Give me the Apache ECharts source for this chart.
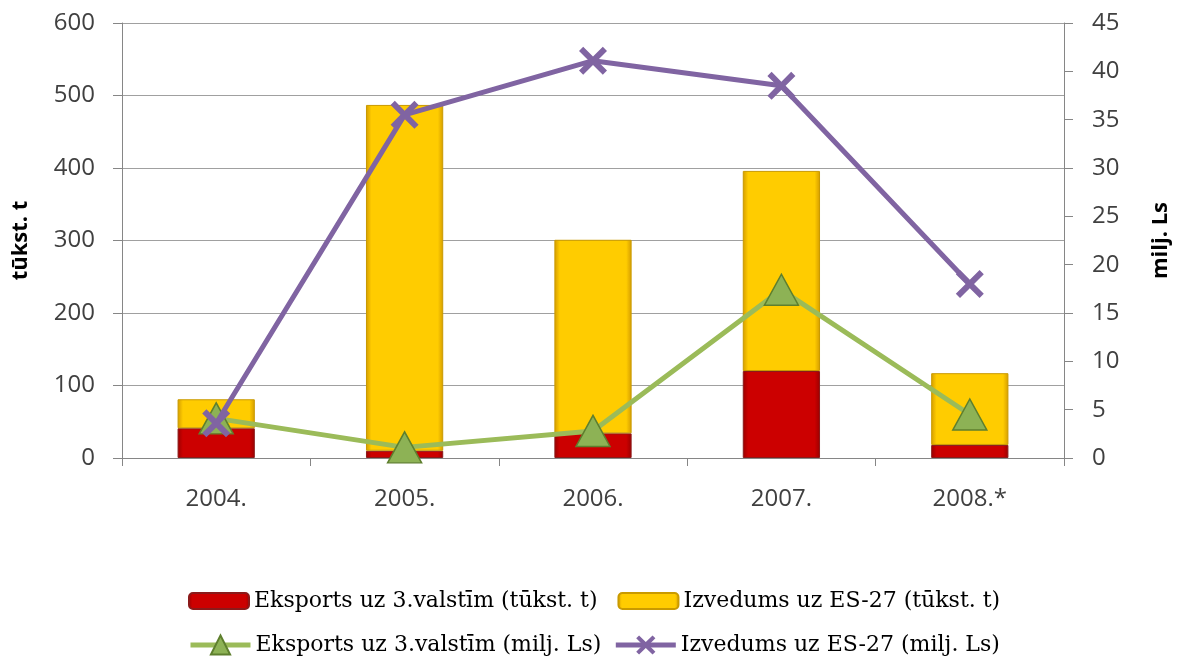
<!DOCTYPE html>
<html>
<head>
<meta charset="utf-8">
<script src="https://cdn.jsdelivr.net/npm/echarts@6/dist/echarts.min.js"></script>
<style>html,body{margin:0;padding:0;background:#fff}#c{width:1178px;height:658px}</style>
</head>
<body>
<div id="c"></div>
<script>
var categories = ['2004.', '2005.', '2006.', '2007.', '2008.*'];
var eksportsT = [41, 10, 34, 120, 18];
var izvedumsT = [40, 477, 267, 276, 99];
var eksportsLs = [4.1, 1.1, 2.8, 17.4, 4.5];
var izvedumsLs = [3.6, 35.5, 41.1, 38.5, 18.0];
var leftTicks = [0, 600, 100];
var rightTicks = [0, 45, 5];

var names = ['Eksports uz 3.valstīm (tūkst. t)', 'Izvedums uz ES-27 (tūkst. t)',
             'Eksports uz 3.valstīm (milj. Ls)', 'Izvedums uz ES-27 (milj. Ls)'];

function hgrad(edge, mid) {
  return new echarts.graphic.LinearGradient(0, 0, 1, 0, [
    {offset: 0, color: edge}, {offset: 0.07, color: mid},
    {offset: 0.93, color: mid}, {offset: 1, color: edge}]);
}
var xPath = 'path://M3,0 L10,7 L17,0 L20,3 L13,10 L20,17 L17,20 L10,13 L3,20 L0,17 L7,10 L0,3 Z';
var axisFont = {color: '#404040', fontSize: 24, fontFamily: 'Open Sans'};
var nameFont = {fontFamily: 'Open Sans', fontWeight: 'bold', fontSize: 22, color: '#000'};
var legendText = {fontFamily: 'DejaVu Serif', fontSize: 22, color: '#000'};

var chart = echarts.init(document.getElementById('c'));
chart.setOption({
  animation: false,
  grid: {left: 122, right: 114, top: 23, bottom: 200, outerBoundsMode: 'none', containLabel: false},
  legend: [
    {data: [names[0], names[1]], left: 183, top: 585, itemWidth: 60, itemHeight: 16, itemGap: 20, textStyle: legendText},
    {data: [names[2], names[3]], left: 183, top: 629, itemWidth: 60, itemHeight: 24, itemGap: 12, textStyle: legendText,
     lineStyle: {width: 5}}
  ],
  xAxis: {
    type: 'category', data: categories,
    axisLine: {lineStyle: {color: '#868686'}},
    axisTick: {show: true, length: 8, lineStyle: {color: '#868686'}},
    axisLabel: Object.assign({margin: 29}, axisFont)
  },
  yAxis: [
    {type: 'value', min: leftTicks[0], max: leftTicks[1], interval: leftTicks[2],
     name: 'tūkst. t', nameLocation: 'middle', nameGap: 90, nameRotate: 90,
     nameTextStyle: nameFont,
     axisLine: {show: true, lineStyle: {color: '#868686'}},
     axisTick: {show: true, length: 9, lineStyle: {color: '#868686'}},
     axisLabel: Object.assign({margin: 27}, axisFont),
     splitLine: {lineStyle: {color: '#A0A0A0'}}},
    {type: 'value', min: rightTicks[0], max: rightTicks[1], interval: rightTicks[2],
     name: 'milj. Ls', nameLocation: 'middle', nameGap: 86, nameRotate: 90,
     nameTextStyle: nameFont,
     axisLine: {show: true, lineStyle: {color: '#868686'}},
     axisTick: {show: true, length: 9, lineStyle: {color: '#868686'}},
     axisLabel: Object.assign({margin: 28}, axisFont),
     splitLine: {show: false}}
  ],
  series: [
    {name: names[0], type: 'bar', stack: 't', data: eksportsT, barWidth: '41%',
     itemStyle: {color: hgrad('#9A0000', '#CC0000'), borderColor: '#8B1A1A', borderWidth: 1}},
    {name: names[1], type: 'bar', stack: 't', data: izvedumsT, barWidth: '41%',
     itemStyle: {color: hgrad('#D49C00', '#FFCC00'), borderColor: '#C99A00', borderWidth: 1}},
    {name: names[2], type: 'line', yAxisIndex: 1, data: eksportsLs, z: 5,
     symbol: 'triangle', symbolSize: [34, 31],
     lineStyle: {color: '#9BBB59', width: 5},
     itemStyle: {color: '#8DB255', borderColor: '#5E7F2E', borderWidth: 1.5}},
    {name: names[3], type: 'line', yAxisIndex: 1, data: izvedumsLs, z: 6,
     symbol: xPath, symbolSize: 28,
     lineStyle: {color: '#8064A2', width: 5},
     itemStyle: {color: '#8064A2'}}
  ]
});
</script>
</body>
</html>
